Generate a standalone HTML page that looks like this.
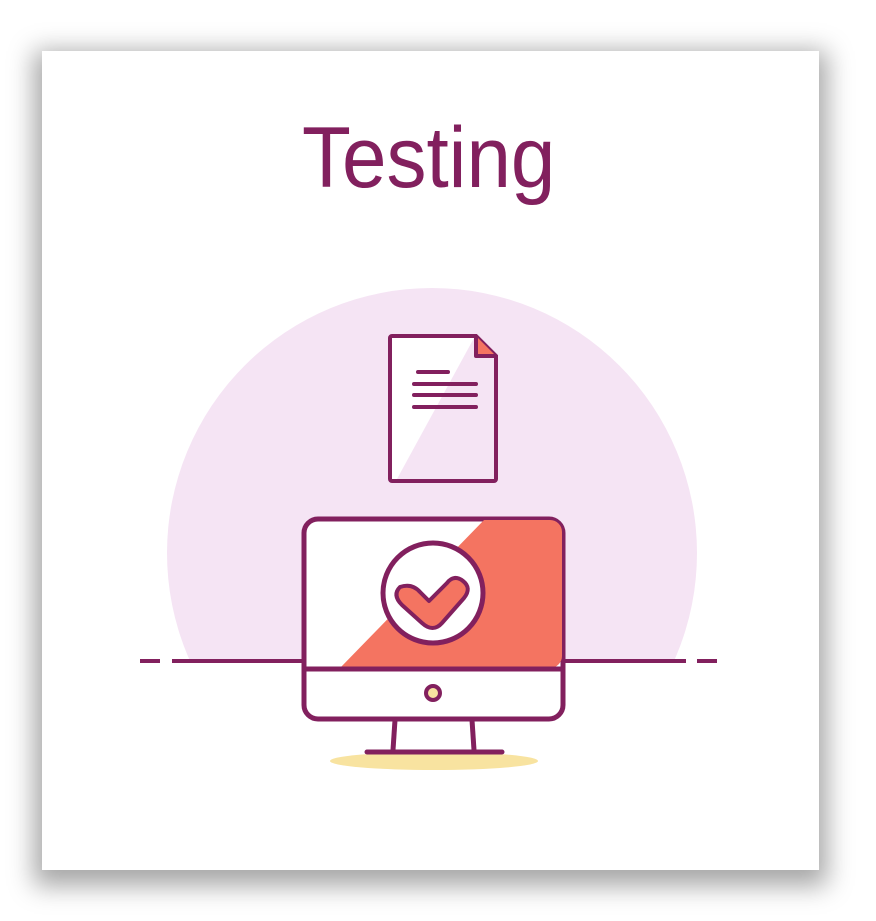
<!DOCTYPE html>
<html><head><style>
html,body{margin:0;padding:0;background:#fff;width:876px;height:921px;overflow:hidden}
.card{position:absolute;left:42px;top:51px;width:777px;height:819px;background:#fff;box-shadow:0 8px 24px 8px rgba(0,0,0,0.35)}
.t{position:absolute;left:302px;top:115px;font-family:"Liberation Sans",sans-serif;font-size:86px;color:#82205e;transform:scaleX(0.93);transform-origin:0 0;line-height:1;white-space:nowrap}
svg{position:absolute;left:0;top:0}
</style></head><body>
<div class="card"></div>
<div class="t">Testing</div>
<svg width="876" height="921" viewBox="0 0 876 921">
<defs><clipPath id="c"><rect x="0" y="0" width="876" height="661"/></clipPath>
<clipPath id="s"><rect x="305" y="520" width="257" height="148" rx="12"/></clipPath></defs>
<circle cx="432" cy="553" r="265" fill="#f5e4f4" clip-path="url(#c)"/>
<line x1="140" y1="661" x2="160" y2="661" stroke="#82205e" stroke-width="4"/>
<line x1="172" y1="661" x2="686" y2="661" stroke="#82205e" stroke-width="4"/>
<line x1="697" y1="661" x2="717" y2="661" stroke="#82205e" stroke-width="4"/>
<ellipse cx="434" cy="761" rx="104" ry="9" fill="#f8e3a0"/>
<path d="M392 336 H476 L496 356 V479 a2 2 0 0 1 -2 2 H392 a2 2 0 0 1 -2 -2 V338 a2 2 0 0 1 2 -2Z" fill="#f5e4f4" stroke="#82205e" stroke-width="4"/>
<polygon points="392,479 392,338 474,338 397,479" fill="#fff"/>
<path d="M476 336 V356 H496" fill="#f47461" stroke="#82205e" stroke-width="4" stroke-linejoin="round"/>
<g stroke="#82205e" stroke-width="4" stroke-linecap="round">
<line x1="418" y1="372" x2="448" y2="372"/>
<line x1="414" y1="384" x2="476" y2="384"/>
<line x1="414" y1="395" x2="476" y2="395"/>
<line x1="414" y1="407" x2="476" y2="407"/>
</g>
<rect x="304" y="519" width="259" height="200" rx="14" fill="#fff" stroke="#82205e" stroke-width="5"/>
<polygon points="485,519 570,519 570,668 340,668" fill="#f47461" clip-path="url(#s)"/>
<line x1="304" y1="669" x2="563" y2="669" stroke="#82205e" stroke-width="5"/>
<circle cx="433" cy="593" r="50" fill="#fff" stroke="#82205e" stroke-width="5"/>
<path d="M400 587 q-8 8 2 18 l20 18 q11 10 20 0 l22 -25 q8 -10 -1 -17 q-9 -7 -16 2 l-18 18 l-9 -9 q-8 -9 -20 -5Z" fill="#f47461" stroke="#82205e" stroke-width="4" stroke-linejoin="round"/>
<circle cx="433" cy="693" r="7" fill="#f8e3a0" stroke="#82205e" stroke-width="4"/>
<line x1="395" y1="720" x2="393" y2="750" stroke="#82205e" stroke-width="5"/>
<line x1="472" y1="720" x2="474" y2="750" stroke="#82205e" stroke-width="5"/>
<line x1="367" y1="752" x2="502" y2="752" stroke="#82205e" stroke-width="5" stroke-linecap="round"/>
</svg>
</body></html>
